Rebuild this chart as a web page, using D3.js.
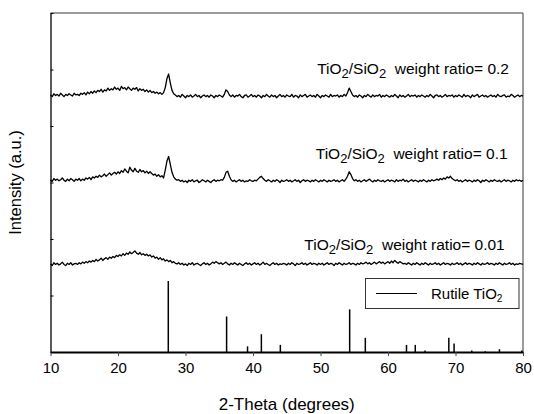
<!DOCTYPE html>
<html>
<head>
<meta charset="utf-8">
<script src="https://cdn.jsdelivr.net/npm/d3@7"></script>
<style>
  body { margin: 0; background: #fff; }
  text { font-family: "Liberation Sans", Arial, sans-serif; fill: #000; }
</style>
</head>
<body>
<svg id="chart" width="534" height="414"></svg>
<script>
// 2-theta grid: 10..80 deg, step 0.25 (one row below = 5 deg)
var thetaStart = 10, thetaEnd = 80, thetaStep = 0.25

// weight ratio 0.2 (offset trace)
var ratio02 = [
  455,452,457,454,456,453,458,455,452,456,454,457,455,453,458,455,456,454,458,456,
  459,455,460,457,461,458,462,459,463,461,465,460,464,462,467,463,466,464,469,465,
  467,463,470,466,468,464,469,466,463,467,465,468,462,466,463,465,461,464,460,463,
  459,461,458,460,457,459,456,459,468,484,492,476,463,457,455,452,454,451,456,453,
  450,454,452,455,451,453,456,452,454,450,453,455,452,454,451,455,453,450,454,452,
  455,453,451,456,464,461,455,452,455,451,454,453,456,452,450,454,455,451,453,456,
  452,454,451,455,453,450,454,452,456,453,451,455,452,454,450,453,456,452,454,451,
  455,453,452,456,451,454,453,450,455,452,454,456,451,453,455,452,454,451,456,453,
  450,454,452,455,453,451,456,452,454,453,455,451,454,452,456,453,459,467,461,455,
  452,454,451,455,453,450,454,452,456,453,451,455,452,454,453,456,451,454,452,455,
  453,451,454,452,456,453,450,455,452,454,451,453,456,452,454,453,455,451,454,452,
  455,453,451,454,452,456,453,450,454,455,452,454,451,453,456,452,454,453,455,451,
  454,452,455,453,451,456,452,454,453,450,455,452,454,456,451,453,455,452,454,451,
  453,455,452,454,451,456,453,452,454,455,451,453,452,456,454,451,453,455,452,454,
  453
]

// weight ratio 0.1
var ratio01 = [
  305,302,307,304,306,303,305,308,304,302,306,303,307,305,302,306,304,307,303,306,
  304,308,306,309,305,310,308,311,309,313,310,312,315,311,314,317,313,316,318,315,
  319,316,321,318,324,320,317,327,322,319,325,320,318,323,319,321,317,320,316,319,
  316,313,315,311,314,310,312,308,322,338,346,332,318,310,306,304,305,302,304,301,
  303,300,304,302,305,301,303,304,300,302,305,303,301,304,302,300,303,305,302,304,
  303,305,304,309,318,320,311,305,302,304,301,303,305,302,304,301,303,302,305,303,
  302,304,303,306,309,311,307,304,302,305,303,301,304,302,305,303,300,304,302,303,
  305,302,304,301,303,305,302,304,300,303,305,302,304,303,301,304,302,305,303,301,
  304,302,305,303,301,304,302,303,305,302,304,301,303,305,302,306,311,319,314,307,
  303,305,302,304,301,303,305,302,304,306,303,301,304,302,305,303,302,304,301,303,
  305,302,304,303,301,305,302,304,303,306,302,304,301,303,305,302,304,303,301,304,
  302,305,303,301,304,302,305,303,304,306,304,307,305,308,306,310,308,311,307,305,
  303,305,302,304,301,303,305,302,304,303,301,304,302,305,303,300,304,302,305,303,
  301,304,302,305,303,302,304,301,303,305,302,304,303,301,304,302,305,303,304,302,
  304
]

// weight ratio 0.01
var ratio001 = [
  156,153,158,155,157,154,156,159,155,153,157,155,158,154,156,157,155,158,156,159,
  157,160,158,161,159,162,160,164,161,163,166,162,165,167,164,168,166,169,167,171,
  169,172,170,174,171,175,173,177,174,176,179,175,173,176,172,174,171,173,170,172,
  168,170,166,168,164,167,163,165,161,163,160,162,158,160,157,156,158,155,157,154,
  156,153,157,155,158,154,156,157,155,153,156,158,155,157,154,156,159,157,160,158,
  156,158,155,157,159,156,154,157,155,158,156,154,157,155,153,156,158,155,157,154,
  156,158,155,157,154,156,159,155,157,155,153,156,158,155,157,154,156,155,157,156,
  154,157,155,158,156,153,157,155,156,158,155,157,154,156,158,155,157,156,154,157,
  155,157,154,156,158,155,157,156,153,157,155,158,156,154,157,155,156,158,155,157,
  156,154,157,155,158,156,157,159,156,158,155,157,159,156,158,160,157,159,156,158,
  160,157,161,158,162,159,157,160,158,156,157,155,158,156,154,157,155,158,156,154,
  157,155,158,156,154,157,155,156,158,155,157,154,156,158,155,157,156,154,157,155,
  156,158,155,157,154,156,158,155,157,156,154,157,155,158,156,154,157,155,156,158,
  155,157,156,154,157,155,158,156,154,157,155,156,158,155,157,154,156,155,157,156,
  155
]

// rutile TiO2 reference pattern (2theta, relative intensity)
var rutilePos = [27.45, 36.09, 39.19, 41.24, 44.05, 54.32, 56.64, 62.74, 64.04, 65.48, 69.01, 69.79, 72.41, 74.41, 76.51, 79.82]
var rutileInt = [100, 50, 8, 25, 10, 60, 20, 10, 10, 2, 20, 12, 2, 1, 4, 2]

var xTicks = [10, 20, 30, 40, 50, 60, 70, 80]
var yTicks = [0, 100, 200, 300, 400, 500, 600]

var seriesLabels = [
  {ratio: '0.2', at: 49.5, y: 74},
  {ratio: '0.1', at: 49.3, y: 159},
  {ratio: '0.01', at: 47.6, y: 250}
]

var svg = d3.select('#chart')
var L = 50.5, R = 523, T = 13, B = 352

var x = d3.scaleLinear().domain([10, 80]).range([L, R])
var y = d3.scaleLinear().domain([0, 600]).range([B, T])
var yStick = d3.scaleLinear().domain([0, 100]).range([B, 281])

var theta = d3.range(thetaStart, thetaEnd + thetaStep / 2, thetaStep)

// frame: top & right in grey
svg.append('line').attr('x1', L).attr('x2', R).attr('y1', T).attr('y2', T)
  .attr('stroke', '#7a7a7a').attr('stroke-width', 1.5)
svg.append('line').attr('x1', R).attr('x2', R).attr('y1', T).attr('y2', B)
  .attr('stroke', '#7a7a7a').attr('stroke-width', 1.5)

var line = d3.line()
  .x(function(d, i) { return x(theta[i]) })
  .y(function(d) { return y(d) })

;[ratio02, ratio01, ratio001].forEach(function(s) {
  svg.append('path')
    .attr('d', line(s))
    .attr('fill', 'none')
    .attr('stroke', '#000')
    .attr('stroke-width', 1.3)
    .attr('stroke-linejoin', 'round')
})

// sticks
svg.selectAll('.stick').data(rutilePos).enter().append('line')
  .attr('class', 'stick')
  .attr('x1', d => x(d)).attr('x2', d => x(d))
  .attr('y1', yStick(0))
  .attr('y2', (d, i) => yStick(rutileInt[i]))
  .attr('stroke', '#000').attr('stroke-width', 1.5)

// axes
var xAxis = svg.append('g').attr('transform', 'translate(0,' + B + ')')
  .call(d3.axisBottom(x).tickValues(xTicks).tickSize(4).tickPadding(6).tickSizeOuter(0))
xAxis.select('.domain').attr('stroke-width', 2.2)
xAxis.selectAll('.tick line').attr('stroke', '#444')
xAxis.selectAll('text').style('font-size', '15px')

var yAxis = svg.append('g').attr('transform', 'translate(' + L + ',0)')
  .call(d3.axisLeft(y).tickValues(yTicks).tickSize(-3).tickFormat('').tickSizeOuter(0))
yAxis.select('.domain').attr('stroke-width', 1.3)

// sample labels
seriesLabels.forEach(function(l) {
  var t = svg.append('text').attr('x', x(l.at)).attr('y', l.y).style('font-size', '15.5px')
  t.append('tspan').text('TiO')
  t.append('tspan').attr('dy', 4).style('font-size', '13px').text('2')
  t.append('tspan').attr('dy', -4).text('/SiO')
  t.append('tspan').attr('dy', 4).style('font-size', '13px').text('2')
  t.append('tspan').attr('dy', -4).attr('xml:space', 'preserve').text('  weight ratio= ' + l.ratio)
})

// legend
svg.append('rect').attr('x', 365.5).attr('y', 278.5).attr('width', 153.5).attr('height', 30)
  .attr('fill', '#fff').attr('stroke', '#333').attr('stroke-width', 1)
svg.append('line').attr('x1', 376).attr('x2', 417).attr('y1', 293.5).attr('y2', 293.5)
  .attr('stroke', '#000').attr('stroke-width', 1.2)
var lg = svg.append('text').attr('x', 431).attr('y', 299).style('font-size', '15px')
lg.append('tspan').text('Rutile TiO')
lg.append('tspan').attr('dy', 3).style('font-size', '10px').text('2')

// axis titles
svg.append('text').attr('x', (L + R) / 2).attr('y', 410).attr('text-anchor', 'middle')
  .style('font-size', '17px').text('2-Theta (degrees)')
svg.append('text').attr('transform', 'translate(21,' + ((T + B) / 2) + ') rotate(-90)')
  .attr('text-anchor', 'middle').style('font-size', '16.5px').text('Intensity (a.u.)')
</script>
</body>
</html>
